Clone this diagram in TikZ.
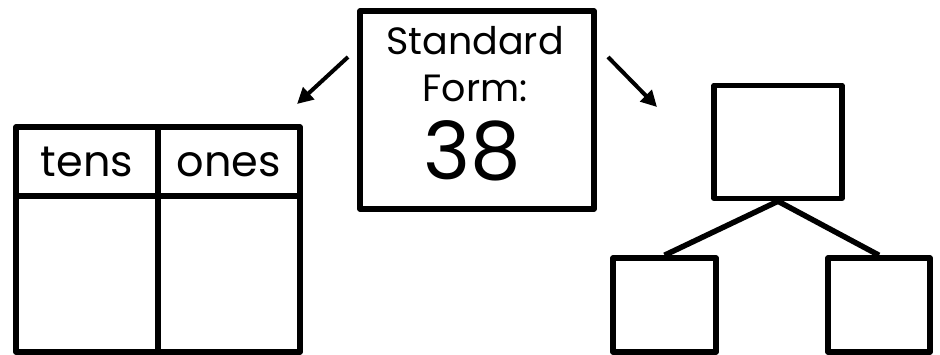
\documentclass[tikz,border=0pt]{standalone}
\usepackage{fontspec}
\setmainfont{Poppins}
\usetikzlibrary{arrows.meta}
\begin{document}
\begin{tikzpicture}[x=1pt,y=-1pt,
  frame/.style={draw=black,line width=5.5pt,line join=round},
  link/.style={draw=black,line width=5.5pt},
  pointer/.style={draw=black,line width=4pt,-{Triangle[length=16pt,width=16pt]}},
  label/.style={font=\fontsize{38}{38}\selectfont,inner sep=0pt,anchor=base},
  head/.style={font=\fontsize{43}{43}\selectfont,inner sep=0pt,anchor=base},
  big/.style={font=\fontsize{80}{80}\selectfont,inner sep=0pt,anchor=base}]
\useasboundingbox (0,0) rectangle (940,355);
% table
\draw[frame] (16,127) rectangle (300,352);
\draw[frame] (16,196) -- (300,196);
\draw[frame] (158,127) -- (158,352);
\node[head] (tens) at (87,177) {tens};
\node[head] (ones) at (229,177) {ones};
% center box
\node[frame,minimum width=234pt,minimum height=198pt,inner sep=0pt] (std) at (477,110) {};
\node[label] (s1) at (475,55) {Standard};
\node[label] (s2) at (475,102) {Form:};
\node[big] (s3) at (472,180) {38};
% tree
\node[frame,minimum width=128pt,minimum height=113pt,inner sep=0pt] (top) at (778,142) {};
\node[frame,minimum width=103pt,minimum height=94pt,inner sep=0pt] (bl) at (664.5,305) {};
\node[frame,minimum width=102pt,minimum height=94pt,inner sep=0pt] (br) at (879,305) {};
\draw[link] (top.south) -- (bl.north);
\draw[link] (top.south) -- (br.north);
% arrows
\coordinate (la) at (348,57);
\coordinate (lt) at (297,104);
\coordinate (ra) at (608,57);
\coordinate (rt) at (657,107);
\draw[pointer] (la) -- (lt);
\draw[pointer] (ra) -- (rt);
\end{tikzpicture}
\end{document}
